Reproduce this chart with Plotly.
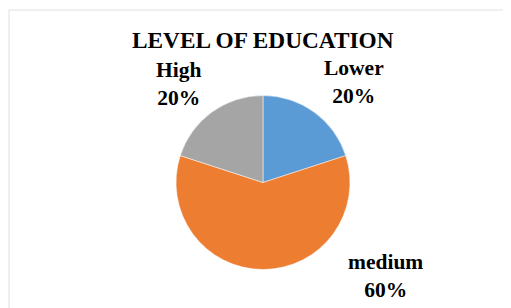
import plotly.graph_objects as go

categories = ["Lower", "medium", "High"]
values = [20, 60, 20]
colors = ["#5B9BD5", "#ED7D31", "#A5A5A5"]

W, H = 511, 308
OFF = 8  # page body margin offset
cx, cy, r = 263 - OFF, 182.5 - OFF, 87

fig = go.Figure(go.Pie(
    labels=categories, values=values, sort=False, direction="clockwise",
    rotation=0, textinfo="none", hoverinfo="label+percent",
    marker=dict(colors=colors, line=dict(color="white", width=0.5)),
    domain=dict(x=[(cx - r) / W, (cx + r) / W], y=[1 - (cy + r) / H, 1 - (cy - r) / H]),
    showlegend=False,
))

label_pos = {"Lower": (354, 82), "medium": (385, 276), "High": (178, 84)}
total = sum(values)
for c, v in zip(categories, values):
    x, y = label_pos[c]
    fig.add_annotation(x=(x - OFF) / W, y=1 - (y - OFF) / H, xref="paper", yref="paper",
                       text=f"<b>{c}<br>{round(100 * v / total)}%</b>", showarrow=False,
                       font=dict(family="Liberation Serif", size=21.5, color="#000000"),
                       xanchor="center", yanchor="middle", align="center")

fig.add_annotation(x=(263 - OFF) / W, y=1 - (40 - OFF) / H, xref="paper", yref="paper",
                   text="<b>LEVEL OF EDUCATION</b>", showarrow=False,
                   font=dict(family="Liberation Serif", size=23.3, color="#000000"),
                   xanchor="center", yanchor="middle")

fig.add_shape(type="rect", xref="paper", yref="paper",
              x0=(9 - OFF) / W, x1=1.05, y0=-0.05, y1=1 - (10 - OFF) / H,
              line=dict(color="#E0E0E0", width=1), fillcolor="rgba(0,0,0,0)")

fig.update_layout(width=W, height=H, margin=dict(l=0, r=0, t=0, b=0),
                  paper_bgcolor="white", plot_bgcolor="white")
fig.write_html("out.html")
